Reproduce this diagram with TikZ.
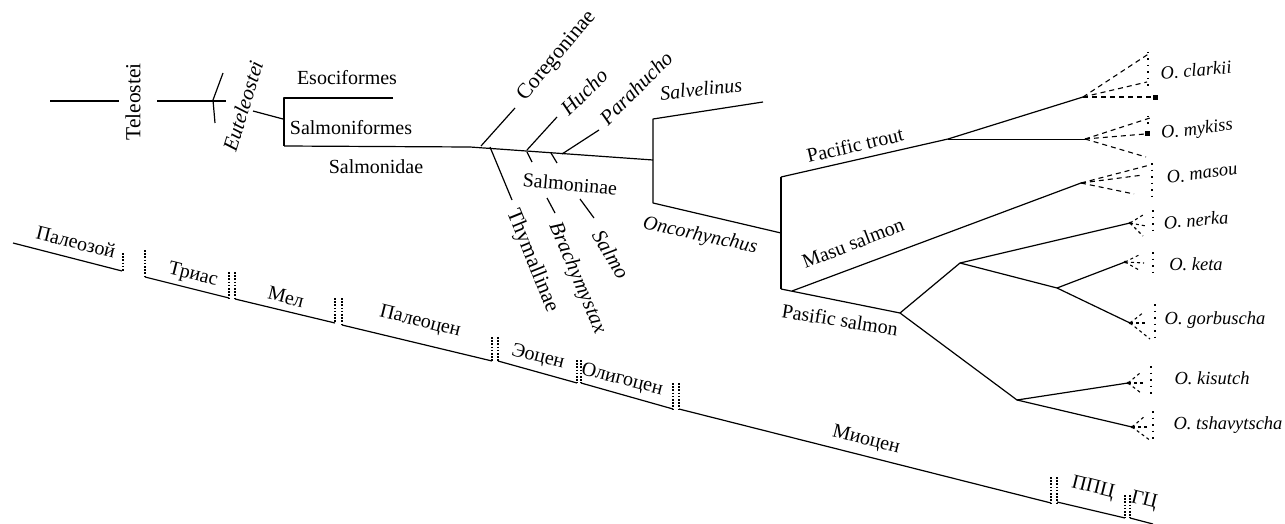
\documentclass[tikz,border=0pt]{standalone}
\usepackage{fontspec}
\setmainfont{Liberation Serif}
\begin{document}
\begin{tikzpicture}[x=1pt,y=-1pt,line width=1.2pt,line join=round,
  lbl/.style={font=\fontsize{20}{24}\selectfont,inner sep=0pt},
  ilbl/.style={font=\fontsize{20}{24}\selectfont\itshape,inner sep=0pt},
  rlbl/.style={font=\fontsize{21.5}{25}\selectfont,inner sep=0pt},
  rilbl/.style={font=\fontsize{21}{25}\selectfont\itshape,inner sep=0pt},
  sp/.style={font=\fontsize{18.5}{22}\selectfont\itshape,inner sep=0pt},
  era/.style={font=\fontsize{20}{24}\selectfont,inner sep=0pt,rotate=-14},
  sepline/.style={line width=1.5pt,dash pattern=on 1.6pt off 1.6pt},
  fan/.style={line width=1.1pt,dash pattern=on 5pt off 4pt},
  sfan/.style={line width=1.1pt,dash pattern=on 3pt off 3pt},
  dcol/.style={line width=1.5pt,dash pattern=on 1.5pt off 5pt},
  tip/.style={circle,fill,inner sep=0pt,minimum size=3pt}]
\useasboundingbox (0,0) rectangle (1285,524);
% ---------------- left part
\coordinate (t1a) at (50,101); \coordinate (t1b) at (119,101);
\draw (t1a) -- (t1b);
\node[rlbl,rotate=90] (teleostei) at (133,102) {Teleostei};
\coordinate (t2a) at (157,101); \coordinate (t2b) at (226,101);
\draw (t2a) -- (t2b);
\coordinate (k1) at (223,73); \coordinate (k2) at (213,100); \coordinate (k3) at (215,123);
\draw (k1) -- (k2) -- (k3);
\node[rilbl,rotate=73] (euteleostei) at (243,106) {Euteleostei};
\coordinate (e1) at (253,111); \coordinate (e2) at (283,119);
\draw (e1) -- (e2);
\coordinate (bt) at (284,98); \coordinate (bb) at (284,146); \coordinate (esoe) at (393,98);
\draw (esoe) -- (bt) -- (bb);
\node[lbl] (esociformes) at (347,78) {Esociformes};
\node[lbl] (salmoniformes) at (351,128) {Salmoniformes};
\node[lbl] (salmonidae) at (376,167) {Salmonidae};
% ---------------- trunk
\coordinate (tr1) at (470,147); \coordinate (sv) at (653,160);
\draw (bb) -- (tr1) -- (sv);
\coordinate (jc) at (481,146); \coordinate (jc2) at (515,108);
\draw (jc) -- (jc2);
\node[rlbl,rotate=50] (coregoninae) at (557,56) {Coregoninae};
\coordinate (jh) at (527,150); \coordinate (jh2) at (557,117);
\draw (jh) -- (jh2);
\node[rilbl,rotate=44] (hucho) at (584,92) {Hucho};
\coordinate (jp) at (562,154); \coordinate (jp2) at (599,130);
\draw (jp) -- (jp2);
\node[rilbl,rotate=45] (parahucho) at (636,88) {Parahucho};
\coordinate (jt) at (490,147); \coordinate (jt2) at (512,200);
\draw (jt) -- (jt2);
\node[rlbl,rotate=-68] (thymallinae) at (532,261) {Thymallinae};
\coordinate (tk1) at (527,152); \coordinate (tk1b) at (532,162);
\coordinate (tk2) at (551,153); \coordinate (tk2b) at (557,163);
\draw (tk1) -- (tk1b); \draw (tk2) -- (tk2b);
\node[lbl,rotate=-5] (salmoninae) at (570,184) {Salmoninae};
\coordinate (bra1) at (547,198); \coordinate (bra2) at (555,213);
\draw (bra1) -- (bra2);
\node[rilbl,rotate=-67] (brachymystax) at (577,278) {Brachymystax};
\coordinate (sa1) at (580,199); \coordinate (sa2) at (594,218);
\draw (sa1) -- (sa2);
\node[rilbl,rotate=-59] (salmo) at (611,254) {Salmo};
% ---------------- Salvelinus / Oncorhynchus
\coordinate (svt) at (653,119); \coordinate (svb) at (653,203);
\coordinate (salv) at (763,102); \coordinate (onc) at (781,233);
\draw (salv) -- (svt) -- (svb) -- (onc);
\node[ilbl,rotate=6] (salvelinus) at (701,89) {Salvelinus};
\node[ilbl,rotate=-12] (oncorhynchus) at (700,236) {Oncorhynchus};
% ---------------- Pacific groups
\coordinate (pt) at (781,177); \coordinate (pb) at (781,289);
\draw (pt) -- (pb);
\coordinate (ptj) at (948,139);
\coordinate (cl) at (1083,97); \coordinate (my) at (1085,139);
\draw (pt) -- (ptj) -- (cl);
\draw[line width=0.9pt] (ptj) -- (my);
\node[lbl,rotate=13] (pactrout) at (855,145) {Pacific trout};
\coordinate (ms) at (792,291); \coordinate (ma) at (1081,183);
\draw (ms) -- (ma);
\node[lbl,rotate=21] (masu) at (853,243) {Masu salmon};
\coordinate (ps) at (900,313);
\draw (pb) -- (ps);
\node[lbl,rotate=-9] (pasific) at (840,320) {Pasific salmon};
\coordinate (j1) at (960,263); \coordinate (j2) at (1057,288); \coordinate (j3) at (1017,400);
\coordinate (ne) at (1130,223); \coordinate (ke) at (1125,262); \coordinate (go) at (1130,323);
\coordinate (ki) at (1128,383); \coordinate (ts) at (1132,427);
\draw (ps) -- (j1) -- (ne);
\draw (j1) -- (j2) -- (ke);
\draw (j2) -- (go);
\draw (ps) -- (j3) -- (ki);
\draw (j3) -- (ts);
\foreach \p in {ne,ke,go,ki,ts} \node[tip] at (\p) {};
% ---------------- fans
\draw[fan] (cl) -- (1150,53); \draw[fan] (cl) -- (1147,82); \draw[fan] (cl) -- (1156,97);
\draw[dcol] (1148,52) -- (1148,88);
\fill (1153,95) rectangle (1158,100);
\draw[fan] (my) -- (1150,118); \draw[fan] (my) -- (1145,134); \draw[fan] (my) -- (1146,157);
\draw[dcol] (1148,116) -- (1148,128);
\fill (1145,131) rectangle (1150,136);
\draw[fan] (ma) -- (1150,165); \draw[fan] (ma) -- (1134,194); \draw[fan] (ma) -- (1143,175);
\draw[dcol] (1152,163) -- (1152,202);
\draw[sfan] (ne) -- (1143,215); \draw[sfan] (ne) -- (1146,226); \draw[sfan] (ne) -- (1143,236);
\draw[dcol] (1153,210) -- (1153,234);
\draw[sfan] (ke) -- (1139,255); \draw[sfan] (ke) -- (1144,263); \draw[sfan] (ke) -- (1139,270);
\draw[dcol] (1153,252) -- (1153,277);
\draw[sfan] (go) -- (1144,312); \draw[sfan] (go) -- (1146,323); \draw[sfan] (go) -- (1150,339);
\draw[dcol] (1155,304) -- (1155,342);
\draw[sfan] (ki) -- (1140,373); \draw[sfan] (ki) -- (1143,383); \draw[sfan] (ki) -- (1141,393);
\draw[dcol] (1151,366) -- (1151,395);
\draw[sfan] (ts) -- (1145,416); \draw[sfan] (ts) -- (1147,427); \draw[sfan] (ts) -- (1151,441);
\draw[dcol] (1153,411) -- (1153,442);
% ---------------- species labels
\node[sp,rotate=5] (clarkii) at (1196,70) {O. clarkii};
\node[sp,rotate=7] (mykiss) at (1197,130) {O. mykiss};
\node[sp,rotate=8] (masou) at (1202,173) {O. masou};
\node[sp,rotate=5] (nerka) at (1196,220) {O. nerka};
\node[sp] (keta) at (1196,264) {O. keta};
\node[sp] (gorbuscha) at (1215,320) {O. gorbuscha};
\node[sp] (kisutch) at (1212,378) {O. kisutch};
\node[sp] (tshavytscha) at (1228,425) {O. tshavytscha};
% ---------------- time scale
\coordinate (a0) at (13,243); \coordinate (a1) at (122,271);
\draw (a0) -- (a1); \draw[sepline] (123,253) -- (123,271);
\node[era] (paleozoi) at (76,242) {Палеозой};
\coordinate (b0) at (145,277); \coordinate (b1) at (229,298);
\draw[sepline] (145,250) -- (145,277); \draw (b0) -- (b1);
\draw[sepline] (229,272) -- (229,298); \draw[sepline] (235,272) -- (235,299);
\node[era] (trias) at (193,275) {Триас};
\coordinate (c0) at (235,299); \coordinate (c1) at (335,323);
\draw (c0) -- (c1);
\draw[sepline] (335,298) -- (335,323); \draw[sepline] (342,298) -- (342,325);
\node[era] (mel) at (286,297) {Мел};
\coordinate (d0) at (342,325); \coordinate (d1) at (492,361);
\draw (d0) -- (d1);
\draw[sepline] (492,337) -- (492,361); \draw[sepline] (498,337) -- (498,361);
\node[era] (paleocen) at (420,322) {Палеоцен};
\coordinate (e0) at (498,361); \coordinate (e1x) at (577,383);
\draw (e0) -- (e1x);
\draw[sepline] (577,360) -- (577,383); \draw[sepline] (581,360) -- (581,383);
\node[era] (eocen) at (538,357) {Эоцен};
\coordinate (f0) at (581,383); \coordinate (f1) at (673,409);
\draw (f0) -- (f1);
\draw[sepline] (673,383) -- (673,409); \draw[sepline] (679,383) -- (679,409);
\node[era] (oligocen) at (622,380) {Олигоцен};
\coordinate (g0) at (679,409); \coordinate (g1) at (1051,503);
\draw (g0) -- (g1);
\draw[sepline] (1051,477) -- (1051,503); \draw[sepline] (1057,477) -- (1057,503);
\node[era] (miocen) at (866,440) {Миоцен};
\coordinate (h0) at (1057,502); \coordinate (h1) at (1125,518);
\draw (h0) -- (h1);
\draw[sepline] (1125,495) -- (1125,518); \draw[sepline] (1130,495) -- (1130,518);
\node[era] (ppc) at (1093,488) {ППЦ};
\coordinate (i0) at (1130,518); \coordinate (i1) at (1153,524);
\draw (i0) -- (i1);
\node[era] (gc) at (1144,501) {ГЦ};
\end{tikzpicture}
\end{document}
